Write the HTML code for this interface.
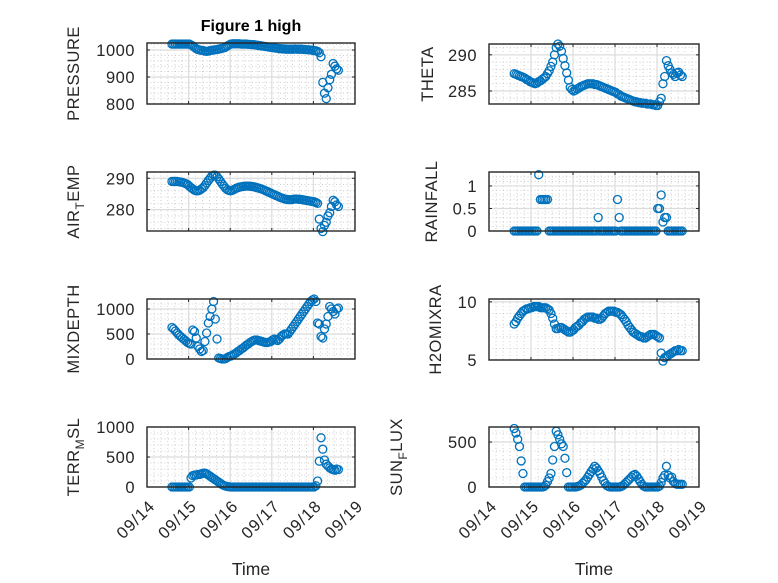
<!DOCTYPE html>
<html><head><meta charset="utf-8">
<style>
html,body{margin:0;padding:0;background:#fff;}
svg{display:block;font-family:"Liberation Sans",sans-serif;}
</style></head>
<body>
<svg id="fig" width="778" height="583" viewBox="0 0 778 583" xmlns="http://www.w3.org/2000/svg">
<rect x="0" y="0" width="778" height="583" fill="#fff"/>
<text x="251" y="31" text-anchor="middle" font-size="16" font-weight="bold" fill="#000">Figure 1 high</text>
</svg>
<script>
// sample times in days after 09/14 00:00 (hourly)
const tStart = 0.6;
const tStepHours = 1;
const dayTicks = ["09/14","09/15","09/16","09/17","09/18","09/19"];

const pressure = [1022,1022,1022,1022,1022,1022,1022,1022,1022,1022,1022,
 1019,1015,1010,1005,1002,1000,999,998,996,995,996,998,999,1000,1001,1002,1003,1005,1006,1008,1011,1015,1019,1022,
 1023,1023,1023,1023,1023,1022,1022,1022,1022,1021,1021,1020,1020,1019,1018,1017,1016,1015,1014,1013,
 1012,1011,1010,1009,1008,1007,1006,1005,1005,1004,1004,1003,1003,1003,1003,1003,1004,1003,1003,1003,
 1003,1002,1002,1001,1001,1000,999,998,
 997,995,990,975,880,840,820,860,890,910,950,940,930,925];
const theta = [287.4,287.3,287.2,287.1,287,286.9,286.8,286.6,286.5,286.3,286.2,286.1,286,286.1,286.3,286.4,286.6,286.8,287,287.4,287.8,288.4,289,290,291,291.5,291.2,290.5,289.5,288.5,287.5,286.5,285.5,285.2,285,
 285.1,285.3,285.4,285.6,285.7,285.8,285.9,286,286,286,286,285.9,285.9,285.8,285.7,285.6,285.5,285.4,285.3,285.2,
 285.1,285,284.9,284.8,284.6,284.5,284.3,284.2,284.1,284,283.9,283.8,283.7,283.6,283.5,283.5,283.4,283.4,283.3,283.3,
 283.3,283.2,283.2,283.2,283.1,283.1,283,283,
 283.5,284,286,287,289.2,288.5,288,287.5,287.3,287,287.5,287.6,287.2,287];
const airTemp = [289,289,289,289,288.9,288.8,288.7,288.5,288.3,288,287.5,287,286.6,286.2,286,286,286.2,286.6,287,287.7,288.5,289.3,290,290.7,291,291,290.5,289.8,289,288.2,287.5,286.8,286.3,286.1,286,
 286.2,286.5,286.8,287,287.2,287.3,287.4,287.5,287.5,287.5,287.5,287.4,287.3,287.2,287,286.9,286.7,286.5,286.3,286,
 285.8,285.5,285.3,285,284.8,284.5,284.3,284,283.8,283.6,283.4,283.3,283.2,283.2,283.2,283.3,283.4,283.4,283.3,283.3,
 283.2,283.1,283,282.9,282.8,282.7,282.6,282.5,
 282.3,282,277,274,273,275,276,278,279,281,283,282.5,281.5,281];
const rainfall = [0,0,0,0,0,0,0,0,0,0,0,0,0,0,1.25,0.7,0.7,0.7,0.7,0.7,
 0,0,0,0,0,0,0,0,0,0,0,0,0,0,0,0,0,0,0,0,0,0,0,0,0,0,0,0,0.3,
 0,0,0,0,0,0,0,0,0,0,0.7,0.3,
 0,0,0,0,0,0,0,0,0,0,0,0,0,0,0,0,0,0,0,0,0,
 0.5,0.5,0.8,0.2,0.3,0.3,0,0,0,0,0,0,0,0,0];
const mixDepth = [630,600,560,520,480,450,420,390,360,330,310,300,580,550,420,250,200,150,170,350,520,720,850,1000,1150,800,400,20,10,0,0,10,30,50,60,
 80,100,120,150,170,200,220,250,280,300,330,350,370,380,380,370,360,350,340,330,
 330,340,350,380,400,380,370,400,450,480,500,500,500,550,600,650,700,750,800,850,
 900,950,1000,1050,1100,1150,1180,1200,
 1150,720,700,450,420,600,700,850,1050,1000,950,900,1000,1020];
const h2oMix = [8.1,8.3,8.6,8.8,9.0,9.2,9.3,9.4,9.4,9.5,9.5,9.6,9.6,9.6,9.6,9.5,9.5,9.5,9.5,9.4,9.3,9.0,8.6,8.1,7.7,7.7,7.8,7.8,7.7,7.6,7.5,7.4,7.4,7.5,7.6,
 7.8,7.9,8.0,8.2,8.3,8.5,8.6,8.7,8.7,8.7,8.7,8.6,8.6,8.5,8.5,8.6,8.8,9.0,9.1,9.2,
 9.2,9.2,9.2,9.1,9.1,9.0,8.9,8.7,8.5,8.3,8.0,7.8,7.6,7.4,7.3,7.2,7.1,7.0,7.0,6.9,
 6.9,7.0,7.1,7.2,7.2,7.2,7.1,7.0,
 6.9,5.6,4.9,5.2,5.3,5.4,5.5,5.6,5.7,5.8,5.8,5.9,5.8,5.8];
const terrMSL = [0,0,0,0,0,0,0,0,0,0,0,
 150,190,200,200,210,210,220,230,230,220,200,180,160,140,120,100,80,60,40,25,15,8,3,0,
 0,0,0,0,0,0,0,0,0,0,0,0,0,0,0,0,0,0,0,0,0,0,0,0,
 0,0,0,0,0,0,0,0,0,0,0,0,0,0,0,0,0,0,0,0,0,0,0,0,
 20,100,430,820,630,450,380,350,320,300,290,280,300,290];
const sunFlux = [650,600,530,450,290,150,0,0,0,0,0,0,0,0,0,0,0,5,20,60,100,150,300,450,620,580,530,480,450,320,160,0,0,0,0,
 0,5,10,20,40,60,80,110,140,170,200,230,210,180,150,110,70,40,15,5,
 0,0,0,0,0,0,5,15,30,50,70,90,110,130,140,120,90,60,30,10,
 0,0,0,0,0,0,0,0,
 10,50,100,130,230,130,100,110,60,40,30,30,30,30];

const pressureTicks = [800,900,1000];
const thetaTicks = [285,290];
const airTicks = [280,290];
const rainTicks = [0,0.5,1];
const mixTicks = [0,500,1000];
const h2oTicks = [5,10];
const terrTicks = [0,500,1000];
const sunTicks = [0,500];

const NS = "http://www.w3.org/2000/svg";
const svg = document.getElementById("fig");
function mk(tag, attrs, parent){
  const e = document.createElementNS(NS, tag);
  for (const k in attrs) e.setAttribute(k, attrs[k]);
  (parent||svg).appendChild(e);
  return e;
}

const panels = [
  {name:"pressure", data:pressure, ticks:pressureTicks, ylim:[800,1026], minor:20, box:[147,43,355,104], label:"PRESSURE", lx:79},
  {name:"theta", data:theta, ticks:thetaTicks, ylim:[283.2,291.5], minor:1, box:[489,44,699,104], label:"THETA", lx:433},
  {name:"air-temp", data:airTemp, ticks:airTicks, ylim:[273.2,292], minor:2, box:[147,172,355,231], label:"AIR", sub:"T", rest:"EMP", lx:79},
  {name:"rainfall", data:rainfall, ticks:rainTicks, ylim:[0,1.31], minor:0.1, box:[489,172,699,231], label:"RAINFALL", lx:437},
  {name:"mixdepth", data:mixDepth, ticks:mixTicks, ylim:[0,1200], minor:100, box:[147,299,355,359], label:"MIXDEPTH", lx:79},
  {name:"h2omixra", data:h2oMix, ticks:h2oTicks, ylim:[5,10.25], minor:1, box:[489,299,699,360], label:"H2OMIXRA", lx:441},
  {name:"terr-msl", data:terrMSL, ticks:terrTicks, ylim:[0,1000], minor:100, box:[147,427,355,487], label:"TERR", sub:"M", rest:"SL", lx:79, xt:true},
  {name:"sunflux", data:sunFlux, ticks:sunTicks, ylim:[0,667], minor:100, box:[489,427,699,487], label:"SUN", sub:"F", rest:"LUX", lx:402, xt:true}
];

panels.forEach(p => {
  const [x0,y0,x1,y1] = p.box;
  const g = mk("g", {});
  
  
  const xs = d => x0 + (x1-x0) * d / 5;
  const ys = v => y1 - (y1-y0) * (v - p.ylim[0]) / (p.ylim[1]-p.ylim[0]);
  for (let k=1; k<30; k++){
    if (k%6===0) continue;
    const x = xs(k/6);
    mk("line",{x1:x,y1:y0,x2:x,y2:y1,stroke:"#c4c4c4","stroke-width":0.8,"stroke-dasharray":"1 2.5"},g);
  }
  const nMin = Math.round((p.ylim[1]-p.ylim[0])/p.minor)+2;
  const vStart = Math.ceil(p.ylim[0]/p.minor)*p.minor;
  for (let k=0; k<nMin; k++){
    const v = vStart + k*p.minor;
    if (v>p.ylim[1]) break;
    const y = ys(v);
    mk("line",{x1:x0,y1:y,x2:x1,y2:y,stroke:"#c4c4c4","stroke-width":0.8,"stroke-dasharray":"1 2.5"},g);
  }
  for (let d=1; d<5; d++){
    const x = xs(d);
    mk("line",{x1:x,y1:y0,x2:x,y2:y1,stroke:"#dcdcdc","stroke-width":1.2},g);
  }
  p.ticks.forEach(v => {
    const y = ys(v);
    mk("line",{x1:x0,y1:y,x2:x1,y2:y,stroke:"#dcdcdc","stroke-width":1.2},g);
    mk("line",{x1:x0,y1:y,x2:x0+3,y2:y,stroke:"#262626","stroke-width":1},g);
    mk("line",{x1:x1,y1:y,x2:x1-3,y2:y,stroke:"#262626","stroke-width":1},g);
    const t = mk("text",{x:x0-12,y:y+6,"text-anchor":"end","font-size":16.5,"letter-spacing":0.5,fill:"#262626"},g);
    
    
    t.textContent = v;
  });
  for (let d=0; d<=5; d++){
    const x = xs(d);
    mk("line",{x1:x,y1:y1,x2:x,y2:y1-3,stroke:"#262626","stroke-width":1},g);
    mk("line",{x1:x,y1:y0,x2:x,y2:y0+3,stroke:"#262626","stroke-width":1},g);
    if (p.xt){
      const ax = x+9, ay = y1+20;
      const t = mk("text",{x:ax,y:ay,"text-anchor":"end","font-size":16.5,"letter-spacing":1,fill:"#262626",transform:`rotate(-45 ${ax} ${ay})`},g);
      
      
      t.textContent = dayTicks[d];
    }
  }
  p.data.forEach((v,i) => {
    const t = tStart + i*tStepHours/24;
    const c = mk("circle",{cx:xs(t),cy:ys(v),r:4,fill:"none",stroke:"#0072BD","stroke-width":1.3},g);
    
    
  });
  mk("rect",{x:x0,y:y0,width:x1-x0,height:y1-y0,fill:"none",stroke:"#262626","stroke-width":1.4},g);
  const cy = (y0+y1)/2;
  const lab = mk("text",{x:p.lx,y:cy,"text-anchor":"middle","font-size":16.5,"letter-spacing":0.5,fill:"#262626",transform:`rotate(-90 ${p.lx} ${cy})`},g);
  
  
  if (p.sub){
    const a = mk("tspan",{},lab); a.textContent = p.label;
    const b = mk("tspan",{dy:5,"font-size":12},lab); b.textContent = p.sub;
    const c = mk("tspan",{dy:-5},lab); c.textContent = p.rest;
  } else {
    lab.textContent = p.label;
  }
  if (p.xt){
    const xl = mk("text",{x:(x0+x1)/2,y:575,"text-anchor":"middle","font-size":17.5,fill:"#262626"},g);
    
    
    xl.textContent = "Time";
  }
});
</script>
</body></html>
